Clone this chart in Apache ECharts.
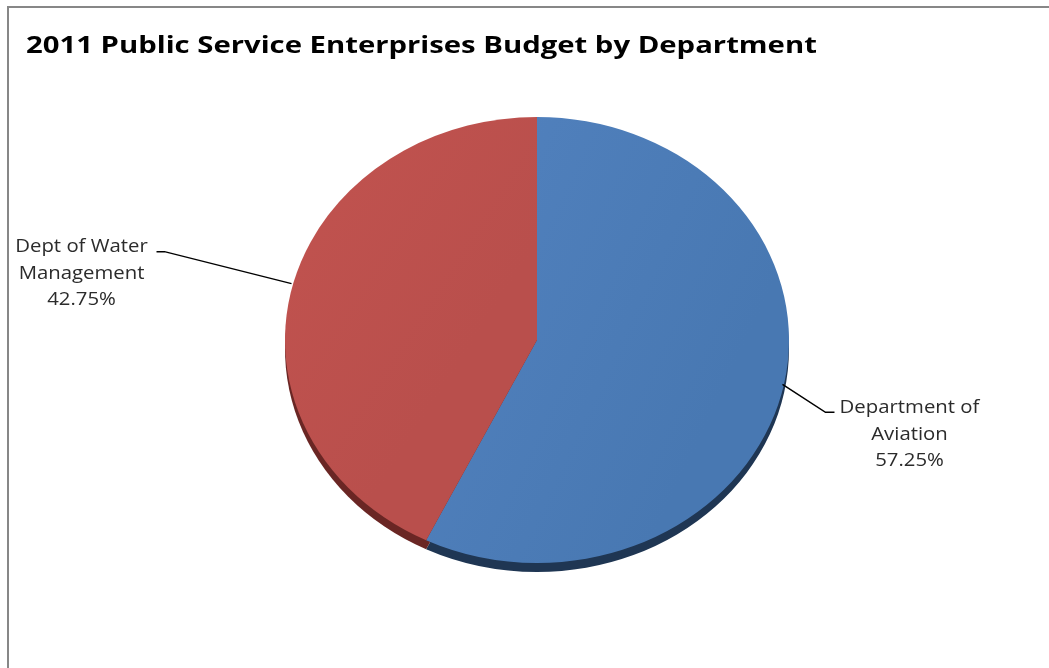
<!DOCTYPE html>
<html>
<head>
<meta charset="utf-8">
<script src="https://cdn.jsdelivr.net/npm/echarts@6/dist/echarts.min.js"></script>
<style>
  html, body { margin: 0; padding: 0; background: #ffffff; }
  #chart { width: 1049px; height: 668px; }
</style>
</head>
<body>
<div id="chart"></div>
<script>
// 2011 Public Service Enterprises budget split by department (percent of total)
const departments = ['Department of\nAviation', 'Dept of Water\nManagement'];
const budgetShares = [57.25, 42.75];
const sliceColors = [
  { top: ['#5282bf', '#4878b2'], side: '#1f3653' },
  { top: ['#c2534f', '#b94f4c'], side: '#6a2624' }
];
// leader line layout per slice: elbow offset from the rim point and the short horizontal run
const leaderLayout = [
  { elbow: [43, 28], run: 9, side: 'right' },
  { elbow: [-127, -32], run: -8, side: 'left' }
];

const TITLE = '2011 Public Service Enterprises Budget by Department';
const LABEL_FONT = '19px "Open Sans", sans-serif';
const LABEL_STRETCH = 1.07;   // the typeface runs slightly wide
const TITLE_STRETCH = 1.22;

const total = budgetShares.reduce((a, b) => a + b, 0);
const cumulative = budgetShares.map((v, i) =>
  budgetShares.slice(0, i).reduce((a, b) => a + b, 0));

// ellipse geometry of the tilted pie
const pie = { cx: 537, cy: 340, rx: 252, ry: 223, depth: 9 };

function renderSlice(params, api) {
  const i = params.dataIndex;
  const value = api.value(0);
  const start = -Math.PI / 2 + (cumulative[i] / total) * Math.PI * 2;
  const end = start + (value / total) * Math.PI * 2;
  const k = pie.ry / pie.rx;
  const col = sliceColors[i];

  const sectorShape = (dy) => ({
    cx: pie.cx, cy: pie.cy + dy / k, r0: 0, r: pie.rx,
    startAngle: start, endAngle: end, clockwise: true
  });

  // rim point at the middle of the slice, projected onto the ellipse
  const mid = (start + end) / 2;
  const px = pie.cx + pie.rx * Math.cos(mid);
  const py = pie.cy + pie.ry * Math.sin(mid) - 6;
  const lay = leaderLayout[i];
  const ex = px + lay.elbow[0];
  const ey = py + lay.elbow[1];
  const hx = ex + lay.run;

  const pct = (value / total * 100).toFixed(2) + '%';
  const textX = lay.side === 'right' ? hx + 75 : hx - 75;

  return {
    type: 'group',
    children: [
      {
        type: 'sector',
        shape: sectorShape(pie.depth),
        scaleY: k, originX: pie.cx, originY: pie.cy,
        style: { fill: col.side },
        z2: 1
      },
      {
        type: 'sector',
        shape: sectorShape(0),
        scaleY: k, originX: pie.cx, originY: pie.cy,
        style: {
          fill: {
            type: 'linear', x: 0, y: 0, x2: 1, y2: 0.3,
            colorStops: [
              { offset: 0, color: col.top[0] },
              { offset: 1, color: col.top[1] }
            ]
          }
        },
        z2: 5
      },
      {
        type: 'polyline',
        shape: { points: [[px, py], [ex, ey], [hx, ey]] },
        style: { stroke: '#000000', lineWidth: 1.5, fill: null },
        z2: 6
      },
      {
        type: 'text',
        x: textX, y: ey - 18,
        scaleX: LABEL_STRETCH,
        style: {
          text: departments[i] + '\n' + pct,
          x: 0, y: 0,
          align: 'center', verticalAlign: 'top',
          font: LABEL_FONT, lineHeight: 26.5,
          fill: '#2b2b2b'
        },
        z2: 6
      }
    ]
  };
}

const chart = echarts.init(document.getElementById('chart'), null, { renderer: 'canvas' });
chart.setOption({
  backgroundColor: '#ffffff',
  animation: false,
  graphic: [
    {
      type: 'rect',
      shape: { x: 8, y: 7, width: 1100, height: 700 },
      style: { fill: null, stroke: '#878787', lineWidth: 2 },
      silent: true
    },
    {
      type: 'text',
      x: 26, y: 46,
      scaleX: TITLE_STRETCH,
      style: {
        text: TITLE,
        x: 0, y: 0,
        font: 'bold 24px "Open Sans", sans-serif',
        fill: '#000000',
        verticalAlign: 'middle'
      },
      silent: true
    }
  ],
  series: [{
    type: 'custom',
    coordinateSystem: 'none',
    renderItem: renderSlice,
    data: budgetShares.map((v, i) => ({ name: departments[i], value: [v] }))
  }]
});
</script>
</body>
</html>
